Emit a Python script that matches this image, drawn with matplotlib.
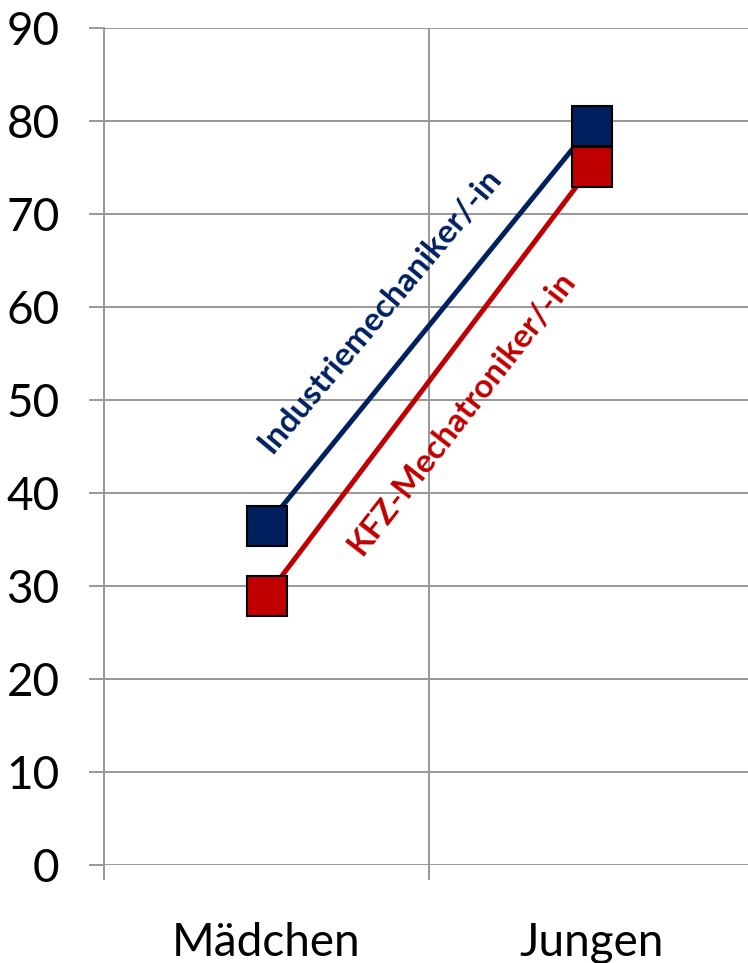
import numpy as np
import matplotlib
matplotlib.use("Agg")
from matplotlib import pyplot as plt

categories = ["Mädchen", "Jungen"]
industrie = [36.5, 79.5]
kfz = [28.9, 75.1]
series_names = ["Industriemechaniker/-in", "KFZ-Mechatroniker/-in"]

blue = "#002060"
red = "#C00000"
grid_grey = "#989898"

plt.rcParams["font.family"] = ["Lato", "DejaVu Sans"]

fig = plt.figure(figsize=(7.48, 9.63), dpi=100)
ax = fig.add_axes([104 / 748, 1 - 865 / 963, 650 / 748, 837 / 963])

x = np.arange(len(categories))
for vals, col in [(industrie, blue), (kfz, red)]:
    ax.plot(x, vals, color=col, lw=3.6, marker="s", ms=29,
            mfc=col, mec="black", mew=1.5, zorder=3)

ax.set_xlim(-0.5, 1.5)
ax.set_ylim(0, 90)
ax.set_yticks(range(0, 91, 10))
ax.set_xticks(x)
ax.set_xticklabels(categories)
ax.set_xticks([-0.5, 0.5, 1.5], minor=True)

ax.grid(True, axis="y", color=grid_grey, lw=1.4)
ax.grid(True, axis="x", which="minor", color=grid_grey, lw=1.4)
ax.set_axisbelow(True)

for side in ["top", "right", "bottom"]:
    ax.spines[side].set_visible(False)
ax.spines["left"].set_color(grid_grey)
ax.spines["left"].set_linewidth(1.4)

ax.tick_params(axis="y", length=11, width=1.4, color=grid_grey,
               labelsize=33, pad=21)
ax.tick_params(axis="x", which="major", length=0, labelsize=33, pad=41)
ax.tick_params(axis="x", which="minor", length=11, width=1.4,
               color=grid_grey)


def slope_angle(vals):
    p = ax.transData.transform([(0, vals[0]), (1, vals[1])])
    return np.degrees(np.arctan2(p[1, 1] - p[0, 1], p[1, 0] - p[0, 0]))


# series names written along their lines
ax.text(0.349, 59.6, series_names[0], color=blue, fontsize=24,
        fontweight="bold", rotation=slope_angle(industrie) - 0.8,
        rotation_mode="anchor", ha="center", va="center")
ax.text(0.599, 48.6, series_names[1], color=red, fontsize=24,
        fontweight="bold", rotation=slope_angle(kfz) - 0.8,
        rotation_mode="anchor", ha="center", va="center")

fig.savefig("out.png", dpi=100)
